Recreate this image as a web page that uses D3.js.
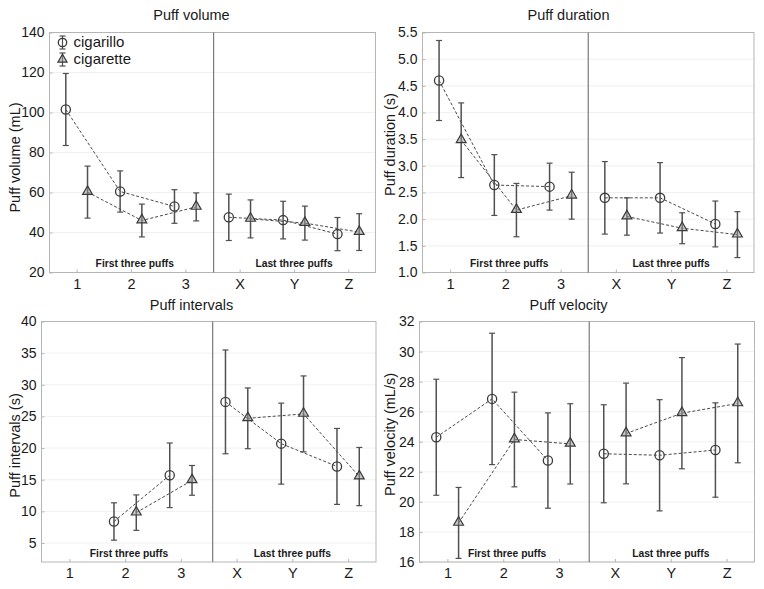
<!DOCTYPE html>
<html>
<head>
<meta charset="utf-8">
<script src="https://cdn.jsdelivr.net/npm/d3@7"></script>
<style>
  html, body { margin: 0; padding: 0; background: #fff; }
  svg { display: block; font-family: "Liberation Sans", Arial, Helvetica, sans-serif; }
</style>
</head>
<body>
<svg id="chart" width="764" height="589"></svg>
<script>
// ---------------- DATA ----------------
const categories = ["1", "2", "3", "X", "Y", "Z"];
const seriesNames = ["cigarillo", "cigarette"];
const segmentLabels = ["First three puffs", "Last three puffs"];

const volumeTicks = [20, 40, 60, 80, 100, 120, 140];
const volumeCigarillo = [101.5, 60.5, 53.0, 47.6, 46.2, 39.2];
const volumeCigarilloSD = [18.0, 10.3, 8.4, 11.6, 9.4, 8.3];
const volumeCigarette = [60.2, 46.0, 52.8, 46.8, 44.7, 40.2];
const volumeCigaretteSD = [13.0, 8.2, 7.0, 9.5, 8.5, 9.2];

const durationTicks = [1.0, 1.5, 2.0, 2.5, 3.0, 3.5, 4.0, 4.5, 5.0, 5.5];
const durationCigarillo = [4.60, 2.64, 2.61, 2.40, 2.40, 1.91];
const durationCigarilloSD = [0.75, 0.57, 0.44, 0.68, 0.66, 0.43];
const durationCigarette = [3.48, 2.17, 2.44, 2.05, 1.83, 1.71];
const durationCigaretteSD = [0.70, 0.50, 0.44, 0.35, 0.29, 0.43];

const intervalTicks = [5, 10, 15, 20, 25, 30, 35, 40];
const intervalCigarillo = [null, 8.4, 15.7, 27.3, 20.7, 17.1];
const intervalCigarilloSD = [null, 2.95, 5.1, 8.2, 6.4, 6.0];
const intervalCigarette = [null, 9.8, 14.9, 24.7, 25.4, 15.5];
const intervalCigaretteSD = [null, 2.8, 2.35, 4.8, 6.0, 4.6];

const velocityTicks = [16, 18, 20, 22, 24, 26, 28, 30, 32];
const velocityCigarillo = [24.3, 26.85, 22.75, 23.2, 23.1, 23.45];
const velocityCigarilloSD = [3.86, 4.37, 3.17, 3.26, 3.7, 3.14];
const velocityCigarette = [18.6, 24.15, 23.86, 24.55, 25.9, 26.55];
const velocityCigaretteSD = [2.36, 3.15, 2.67, 3.35, 3.7, 3.95];

// ---------------- PANELS (data + layout) ----------------
const panels = [
  { title: "Puff volume", ylabel: "Puff volume (mL)", domain: [20, 140], ticks: volumeTicks, fmt: d3.format("d"),
    s1: volumeCigarillo, e1: volumeCigarilloSD, s2: volumeCigarette, e2: volumeCigaretteSD,
    box: { l: 49.5, r: 375.5, t: 32.5, b: 272.5 }, titleX: 191.5, titleY: 19.5,
    ylabX: 19.5, ylabY: 157.5, divider: 3.52, legend: true },
  { title: "Puff duration", ylabel: "Puff duration (s)", domain: [1.0, 5.5], ticks: durationTicks, fmt: d3.format(".1f"),
    s1: durationCigarillo, e1: durationCigarilloSD, s2: durationCigarette, e2: durationCigaretteSD,
    box: { l: 422.5, r: 754, t: 32.5, b: 272.5 }, titleX: 568.5, titleY: 19.5,
    ylabX: 395, ylabY: 144.5, divider: 3.5, legend: false },
  { title: "Puff intervals", ylabel: "Puff intervals (s)", domain: [2, 40], ticks: intervalTicks, fmt: d3.format("d"),
    s1: intervalCigarillo, e1: intervalCigarilloSD, s2: intervalCigarette, e2: intervalCigaretteSD,
    box: { l: 41.5, r: 376, t: 321.5, b: 562 }, titleX: 191.5, titleY: 309.5,
    ylabX: 19.5, ylabY: 445.5, divider: 3.57, legend: false },
  { title: "Puff velocity", ylabel: "Puff velocity (mL/s)", domain: [16, 32], ticks: velocityTicks, fmt: d3.format("d"),
    s1: velocityCigarillo, e1: velocityCigarilloSD, s2: velocityCigarette, e2: velocityCigaretteSD,
    box: { l: 419.5, r: 754.5, t: 321.5, b: 562 }, titleX: 568.5, titleY: 309.5,
    ylabX: 395, ylabY: 434.5, divider: 3.54, legend: false }
];

const svg = d3.select("#chart");
const textColor = "#1a1a1a";
const frameColor = "#b5b5b5";
const markColor = "#3a3a3a";
const lineColor = "#4a4a4a";
const triFill = "rgba(150,150,150,0.5)";
const offset = 0.2;

panels.forEach(p => {
  const g = svg.append("g");
  const B = p.box;
  const x = d3.scaleLinear().domain([0.5, 6.5]).range([B.l, B.r]);
  const y = d3.scaleLinear().domain(p.domain).range([B.b, B.t]);

  // gridlines
  g.append("g").selectAll("line").data(p.ticks).join("line")
    .attr("x1", B.l).attr("x2", B.r)
    .attr("y1", d => y(d)).attr("y2", d => y(d))
    .attr("stroke", "#ececec").attr("stroke-width", 0.8);

  // frame
  g.append("rect").attr("x", B.l).attr("y", B.t)
    .attr("width", B.r - B.l).attr("height", B.b - B.t)
    .attr("fill", "none").attr("stroke", frameColor).attr("stroke-width", 1);

  // y axis
  const yAxis = d3.axisLeft(y).tickValues(p.ticks).tickFormat(p.fmt).tickSize(-3).tickPadding(5);
  const ya = g.append("g").attr("transform", `translate(${B.l},0)`).call(yAxis);
  ya.select(".domain").remove();
  ya.selectAll(".tick line").attr("stroke", frameColor);
  ya.selectAll(".tick text").attr("fill", textColor)
    .style("font-size", "14px").style("font-family", "Liberation Sans, Arial, sans-serif");

  // x axis
  const xAxis = d3.axisBottom(x).tickValues([1, 2, 3, 4, 5, 6])
    .tickFormat(d => categories[d - 1]).tickSize(-3).tickPadding(6);
  const xa = g.append("g").attr("transform", `translate(0,${B.b})`).call(xAxis);
  xa.select(".domain").remove();
  xa.selectAll(".tick line").attr("stroke", frameColor);
  xa.selectAll(".tick text").attr("fill", textColor)
    .style("font-size", "14.5px").style("font-family", "Liberation Sans, Arial, sans-serif");

  // divider
  g.append("line").attr("x1", x(p.divider)).attr("x2", x(p.divider))
    .attr("y1", B.t).attr("y2", B.b).attr("stroke", "#7a7a7a").attr("stroke-width", 1.2);

  // segment labels
  g.selectAll("text.seg").data(segmentLabels).join("text").attr("class", "seg")
    .attr("x", (d, i) => x(i === 0 ? 2.07 : 5.0)).attr("y", B.b - 5.5)
    .attr("text-anchor", "middle").attr("font-size", "10.3px").attr("font-weight", "bold")
    .attr("fill", textColor).text(d => d);

  // title
  g.append("text").attr("x", p.titleX).attr("y", p.titleY).attr("text-anchor", "middle")
    .attr("font-size", "14.5px").attr("fill", textColor).text(p.title);

  // y label
  g.append("text").attr("transform", `translate(${p.ylabX},${p.ylabY}) rotate(-90)`)
    .attr("text-anchor", "middle").attr("font-size", "14.5px").attr("fill", textColor).text(p.ylabel);

  const series = [
    { name: seriesNames[0], vals: p.s1, errs: p.e1, dx: -offset, shape: "circle" },
    { name: seriesNames[1], vals: p.s2, errs: p.e2, dx: offset, shape: "triangle" }
  ];

  series.forEach(s => {
    const pts = s.vals.map((v, i) => ({ i, v, e: s.errs[i], xv: i + 1 + s.dx }));
    const line = d3.line().defined(d => d.v != null).x(d => x(d.xv)).y(d => y(d.v));
    [pts.slice(0, 3), pts.slice(3, 6)].forEach(seg => {
      g.append("path").attr("d", line(seg)).attr("fill", "none")
        .attr("stroke", lineColor).attr("stroke-width", 1).attr("stroke-dasharray", "3,2");
    });
    const valid = pts.filter(d => d.v != null);
    const eb = g.append("g");
    eb.selectAll("line.v").data(valid).join("line").attr("class", "v")
      .attr("x1", d => x(d.xv)).attr("x2", d => x(d.xv))
      .attr("y1", d => y(d.v - d.e)).attr("y2", d => y(d.v + d.e))
      .attr("stroke", "#505050").attr("stroke-width", 1.5);
    ["top", "bot"].forEach(k => {
      eb.selectAll("line." + k).data(valid).join("line").attr("class", k)
        .attr("x1", d => x(d.xv) - 3).attr("x2", d => x(d.xv) + 3)
        .attr("y1", d => y(k === "top" ? d.v + d.e : d.v - d.e))
        .attr("y2", d => y(k === "top" ? d.v + d.e : d.v - d.e))
        .attr("stroke", "#505050").attr("stroke-width", 1.2);
    });
    if (s.shape === "circle") {
      g.selectAll(null).data(valid).join("circle")
        .attr("cx", d => x(d.xv)).attr("cy", d => y(d.v)).attr("r", 4.6)
        .attr("fill", "none").attr("stroke", markColor).attr("stroke-width", 1.3);
    } else {
      g.selectAll(null).data(valid).join("path")
        .attr("d", d3.symbol(d3.symbolTriangle, 42)())
        .attr("transform", d => `translate(${x(d.xv)},${y(d.v) - 0.5})`)
        .attr("fill", triFill).attr("stroke", markColor).attr("stroke-width", 1.2);
    }
  });

  if (p.legend) {
    const lg = g.append("g");
    const items = [{ name: seriesNames[0], shape: "circle", cy: 42.5 },
                   { name: seriesNames[1], shape: "triangle", cy: 59.5 }];
    items.forEach(it => {
      const cx = 62.5;
      lg.append("line").attr("x1", cx).attr("x2", cx).attr("y1", it.cy - 6.5).attr("y2", it.cy + 6.5)
        .attr("stroke", "#505050").attr("stroke-width", 1.2);
      [it.cy - 6.5, it.cy + 6.5].forEach(yy => lg.append("line")
        .attr("x1", cx - 3).attr("x2", cx + 3).attr("y1", yy).attr("y2", yy)
        .attr("stroke", "#505050").attr("stroke-width", 1.2));
      if (it.shape === "circle") {
        lg.append("circle").attr("cx", cx).attr("cy", it.cy).attr("r", 4.2)
          .attr("fill", "none").attr("stroke", markColor).attr("stroke-width", 1.3);
      } else {
        lg.append("path").attr("d", d3.symbol(d3.symbolTriangle, 36)())
          .attr("transform", `translate(${cx},${it.cy})`)
          .attr("fill", triFill).attr("stroke", markColor).attr("stroke-width", 1.2);
      }
      lg.append("text").attr("x", 73.5).attr("y", it.cy + 4.5).attr("font-size", "15px")
        .attr("fill", textColor).text(it.name);
    });
  }
});
</script>
</body>
</html>
